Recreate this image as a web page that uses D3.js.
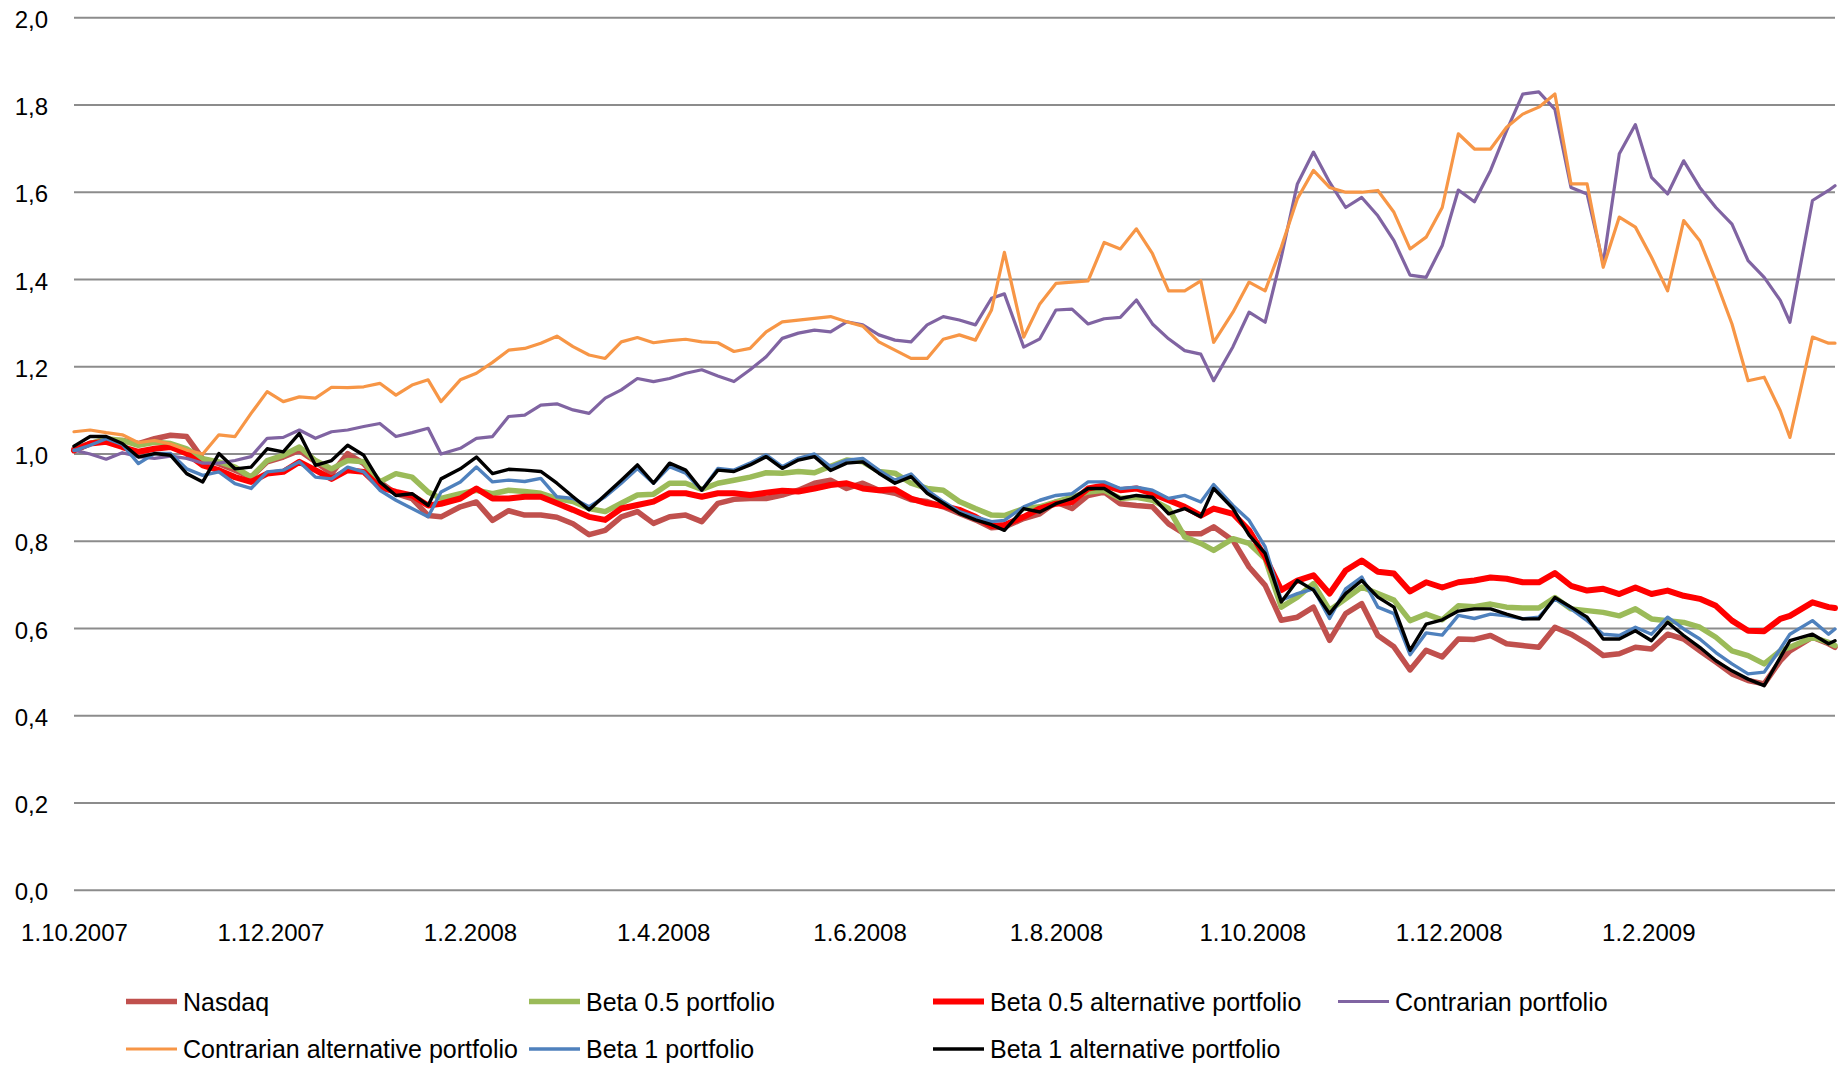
<!DOCTYPE html>
<html>
<head>
<meta charset="utf-8">
<script src="https://cdn.jsdelivr.net/npm/d3@7"></script>
<style>
  html, body { margin: 0; padding: 0; background: #ffffff; }
  svg { display: block; }
  text { font-family: "Liberation Sans", Arial, sans-serif; fill: #000; }
</style>
</head>
<body>
<svg id="chart" width="1839" height="1066"></svg>
<script>
// ---------- DATA ----------
const dates = [
  "2007-10-01","2007-10-06","2007-10-11","2007-10-16","2007-10-21","2007-10-26","2007-10-31","2007-11-05","2007-11-10","2007-11-15",
  "2007-11-20","2007-11-25","2007-11-30","2007-12-05","2007-12-10","2007-12-15","2007-12-20","2007-12-25","2007-12-30","2008-01-04",
  "2008-01-09","2008-01-14","2008-01-19","2008-01-23","2008-01-29","2008-02-03","2008-02-08","2008-02-13","2008-02-18","2008-02-23",
  "2008-02-28","2008-03-04","2008-03-09","2008-03-14","2008-03-19","2008-03-24","2008-03-29","2008-04-03","2008-04-08","2008-04-13",
  "2008-04-18","2008-04-23","2008-04-28","2008-05-03","2008-05-08","2008-05-13","2008-05-18","2008-05-23","2008-05-28","2008-06-02",
  "2008-06-07","2008-06-12","2008-06-17","2008-06-22","2008-06-27","2008-07-02","2008-07-07","2008-07-12","2008-07-16","2008-07-22",
  "2008-07-27","2008-08-01","2008-08-06","2008-08-11","2008-08-16","2008-08-21","2008-08-26","2008-08-31","2008-09-05","2008-09-10",
  "2008-09-15","2008-09-19","2008-09-25","2008-09-30","2008-10-05","2008-10-10","2008-10-15","2008-10-20","2008-10-25","2008-10-30",
  "2008-11-04","2008-11-09","2008-11-14","2008-11-19","2008-11-24","2008-11-29","2008-12-04","2008-12-09","2008-12-14","2008-12-19",
  "2008-12-24","2008-12-29","2009-01-03","2009-01-08","2009-01-13","2009-01-18","2009-01-23","2009-01-28","2009-02-02","2009-02-07",
  "2009-02-12","2009-02-17","2009-02-22","2009-02-27","2009-03-04","2009-03-09","2009-03-14","2009-03-17","2009-03-24","2009-03-29",
  "2009-03-31"
];

const nasdaq = [
  1.012,1.024,1.031,1.031,1.024,1.035,1.043,1.040,0.989,0.978,
  0.963,0.947,0.982,0.993,1.008,0.982,0.955,1.001,0.978,0.936,
  0.909,0.898,0.859,0.856,0.879,0.890,0.848,0.870,0.860,0.860,
  0.855,0.840,0.815,0.825,0.856,0.868,0.841,0.856,0.860,0.845,
  0.887,0.896,0.898,0.898,0.906,0.917,0.933,0.940,0.921,0.933,
  0.917,0.910,0.895,0.891,0.879,0.864,0.849,0.831,0.833,0.852,
  0.863,0.890,0.875,0.905,0.913,0.886,0.882,0.879,0.840,0.817,
  0.817,0.833,0.802,0.741,0.699,0.619,0.626,0.649,0.573,0.634,
  0.657,0.584,0.558,0.505,0.550,0.535,0.576,0.575,0.584,0.565,
  0.561,0.557,0.603,0.587,0.565,0.538,0.542,0.557,0.553,0.587,
  0.576,0.549,0.523,0.496,0.481,0.473,0.526,0.549,0.580,0.565,
  0.557
];

const beta05 = [
  1.008,1.024,1.035,1.031,1.020,1.027,1.024,1.012,0.989,0.982,
  0.970,0.947,0.985,0.997,1.016,0.985,0.966,0.985,0.982,0.936,
  0.955,0.947,0.913,0.898,0.909,0.917,0.909,0.917,0.914,0.910,
  0.898,0.891,0.875,0.868,0.887,0.906,0.908,0.933,0.933,0.919,
  0.933,0.940,0.947,0.957,0.956,0.960,0.957,0.972,0.986,0.982,
  0.960,0.956,0.933,0.921,0.917,0.891,0.875,0.860,0.859,0.875,
  0.879,0.890,0.901,0.913,0.917,0.898,0.901,0.894,0.875,0.810,
  0.795,0.779,0.806,0.795,0.760,0.649,0.672,0.703,0.642,0.668,
  0.695,0.680,0.665,0.618,0.633,0.620,0.652,0.650,0.656,0.649,
  0.647,0.647,0.671,0.645,0.641,0.637,0.629,0.645,0.622,0.618,
  0.614,0.603,0.580,0.549,0.538,0.519,0.549,0.557,0.580,0.568,
  0.561
];

const beta05Alt = [
  1.008,1.024,1.028,1.016,1.005,1.012,1.016,1.001,0.974,0.963,
  0.947,0.936,0.955,0.959,0.982,0.963,0.943,0.963,0.959,0.924,
  0.913,0.905,0.882,0.886,0.898,0.921,0.898,0.898,0.902,0.902,
  0.887,0.872,0.856,0.849,0.875,0.883,0.891,0.910,0.910,0.902,
  0.910,0.910,0.906,0.911,0.916,0.914,0.921,0.929,0.933,0.921,
  0.917,0.919,0.898,0.887,0.881,0.872,0.856,0.835,0.837,0.856,
  0.875,0.886,0.890,0.921,0.928,0.917,0.921,0.909,0.894,0.879,
  0.859,0.875,0.863,0.825,0.764,0.688,0.710,0.722,0.680,0.733,
  0.756,0.730,0.726,0.685,0.706,0.694,0.706,0.710,0.717,0.714,
  0.706,0.706,0.727,0.698,0.687,0.691,0.679,0.694,0.679,0.687,
  0.675,0.668,0.652,0.618,0.595,0.594,0.622,0.629,0.660,0.649,
  0.647
];

const contrarian = [
  1.009,1.000,0.988,1.003,0.994,0.990,0.995,0.990,0.979,0.979,
  0.985,0.994,1.036,1.038,1.055,1.036,1.051,1.055,1.063,1.070,
  1.040,1.049,1.059,1.000,1.013,1.036,1.040,1.086,1.089,1.112,
  1.115,1.101,1.093,1.128,1.147,1.173,1.166,1.173,1.185,1.193,
  1.179,1.166,1.193,1.223,1.265,1.277,1.284,1.280,1.303,1.296,
  1.273,1.261,1.257,1.296,1.315,1.307,1.296,1.357,1.367,1.245,
  1.264,1.330,1.332,1.298,1.310,1.313,1.353,1.298,1.264,1.237,
  1.229,1.168,1.246,1.325,1.302,1.451,1.619,1.692,1.623,1.565,
  1.588,1.546,1.489,1.410,1.405,1.478,1.605,1.578,1.650,1.741,
  1.825,1.830,1.790,1.611,1.596,1.436,1.688,1.755,1.634,1.596,
  1.672,1.611,1.565,1.527,1.443,1.405,1.352,1.302,1.581,1.604,
  1.615
];

const contrarianAlt = [
  1.051,1.055,1.049,1.044,1.026,1.031,1.023,1.009,1.000,1.044,
  1.040,1.093,1.143,1.120,1.131,1.128,1.153,1.152,1.154,1.162,
  1.135,1.158,1.170,1.120,1.170,1.185,1.210,1.238,1.242,1.254,
  1.270,1.246,1.227,1.219,1.257,1.267,1.255,1.260,1.263,1.257,
  1.255,1.235,1.242,1.280,1.303,1.307,1.311,1.315,1.303,1.293,
  1.257,1.238,1.219,1.219,1.263,1.273,1.261,1.330,1.462,1.268,
  1.344,1.391,1.394,1.397,1.485,1.470,1.516,1.459,1.374,1.374,
  1.397,1.256,1.325,1.394,1.374,1.474,1.585,1.650,1.611,1.600,
  1.600,1.604,1.554,1.470,1.497,1.565,1.734,1.699,1.699,1.749,
  1.779,1.795,1.825,1.619,1.619,1.428,1.543,1.520,1.451,1.374,
  1.535,1.489,1.397,1.298,1.168,1.176,1.099,1.038,1.268,1.254,
  1.254
];

const beta1 = [
  1.008,1.020,1.035,1.022,0.978,1.001,1.001,0.966,0.951,0.959,
  0.932,0.921,0.959,0.963,0.982,0.947,0.943,0.970,0.959,0.917,
  0.894,0.875,0.856,0.913,0.936,0.970,0.936,0.940,0.937,0.944,
  0.902,0.898,0.879,0.902,0.933,0.967,0.933,0.971,0.956,0.917,
  0.967,0.963,0.979,0.998,0.971,0.990,1.000,0.971,0.986,0.990,
  0.963,0.940,0.954,0.917,0.891,0.868,0.856,0.845,0.848,0.879,
  0.894,0.905,0.909,0.936,0.936,0.921,0.924,0.917,0.898,0.905,
  0.890,0.930,0.882,0.848,0.787,0.665,0.680,0.691,0.623,0.691,
  0.718,0.649,0.634,0.540,0.590,0.585,0.630,0.623,0.633,0.629,
  0.622,0.626,0.668,0.645,0.618,0.587,0.584,0.603,0.587,0.626,
  0.599,0.576,0.545,0.519,0.496,0.500,0.553,0.587,0.618,0.587,
  0.599
];

const beta1Alt = [
  1.018,1.040,1.040,1.024,0.993,1.001,0.997,0.955,0.936,1.001,
  0.966,0.970,1.012,1.005,1.047,0.974,0.985,1.020,0.997,0.936,
  0.905,0.909,0.882,0.943,0.966,0.993,0.955,0.965,0.963,0.960,
  0.933,0.902,0.872,0.906,0.940,0.975,0.933,0.979,0.963,0.917,
  0.963,0.960,0.975,0.994,0.967,0.986,0.994,0.962,0.979,0.982,
  0.956,0.933,0.948,0.910,0.887,0.864,0.849,0.838,0.825,0.875,
  0.867,0.886,0.898,0.921,0.921,0.898,0.905,0.901,0.863,0.875,
  0.856,0.921,0.875,0.814,0.772,0.661,0.710,0.688,0.634,0.680,
  0.710,0.672,0.649,0.550,0.610,0.620,0.640,0.645,0.645,0.633,
  0.622,0.622,0.671,0.649,0.626,0.576,0.576,0.595,0.572,0.614,
  0.584,0.557,0.526,0.503,0.484,0.469,0.534,0.572,0.587,0.565,
  0.572
];

const seriesNames = [
  "Nasdaq", "Beta 0.5 portfolio", "Beta 0.5 alternative portfolio", "Contrarian portfolio",
  "Contrarian alternative portfolio", "Beta 1 portfolio", "Beta 1 alternative portfolio"
];
const seriesColors = ["#C0504D", "#9BBB59", "#FF0000", "#8064A2", "#F79646", "#4F81BD", "#000000"];
const seriesWidths = [5.5, 5.5, 6, 3.2, 3.2, 3.4, 3.4];
const seriesValues = [nasdaq, beta05, beta05Alt, contrarian, contrarianAlt, beta1, beta1Alt];

const xTickDates = ["2007-10-01","2007-12-01","2008-02-01","2008-04-01","2008-06-01","2008-08-01","2008-10-01","2008-12-01","2009-02-01"];
const xTickLabels = ["1.10.2007","1.12.2007","1.2.2008","1.4.2008","1.6.2008","1.8.2008","1.10.2008","1.12.2008","1.2.2009"];
const yTickValues = [0, 0.2, 0.4, 0.6, 0.8, 1.0, 1.2, 1.4, 1.6, 1.8, 2.0];
const xDomain = ["2007-10-01", "2009-03-31"];

// ---------- LAYOUT ----------
const parse = d3.timeParse("%Y-%m-%d");
const svg = d3.select("#chart");
const plot = { left: 74, right: 1835, top: 17.7, bottom: 890.3 };

const x = d3.scaleTime().domain(xDomain.map(parse)).range([plot.left, plot.right]);
const y = d3.scaleLinear().domain([0, 2]).range([plot.bottom, plot.top]);

const commaFmt = d3.formatLocale({ decimal: ",", thousands: " ", grouping: [3], currency: ["", ""] }).format(".1f");

// gridlines
svg.append("g").attr("class", "grid")
  .selectAll("line").data(yTickValues).join("line")
  .attr("x1", plot.left).attr("x2", plot.right)
  .attr("y1", d => y(d)).attr("y2", d => y(d))
  .attr("stroke", "#8c8c8c").attr("stroke-width", 2);

// y axis
const yAxis = d3.axisLeft(y).tickValues(yTickValues).tickFormat(commaFmt).tickSize(0).tickPadding(0);
const gy = svg.append("g").attr("transform", "translate(48,0)").call(yAxis);
gy.select(".domain").remove();
gy.selectAll("text").attr("font-size", 24).attr("font-family", "Liberation Sans, Arial, sans-serif")
  .attr("fill", "#000").attr("dy", "0.4em");

// x axis
const xAxis = d3.axisBottom(x).tickValues(xTickDates.map(parse))
  .tickFormat((d, i) => xTickLabels[i]).tickSize(0).tickPadding(0);
const gx = svg.append("g").attr("transform", "translate(0,924)").call(xAxis);
gx.select(".domain").remove();
gx.selectAll("text").attr("font-size", 24).attr("font-family", "Liberation Sans, Arial, sans-serif")
  .attr("fill", "#000").attr("dy", "0.7em").attr("y", 0);

// lines
const parsedDates = dates.map(parse);
const line = d3.line().x(d => x(d[0])).y(d => y(d[1]));
const gLines = svg.append("g").attr("class", "lines");
seriesValues.forEach((vals, s) => {
  const pts = vals.map((v, i) => [parsedDates[i], v]);
  gLines.append("path")
    .attr("d", line(pts))
    .attr("fill", "none")
    .attr("stroke", seriesColors[s])
    .attr("stroke-width", seriesWidths[s])
    .attr("stroke-linejoin", "round")
    .attr("stroke-linecap", "round");
});

// legend
const legendCols = [126, 529, 933, 1338];
const legendRows = [1001.5, 1049];
const gLeg = svg.append("g").attr("class", "legend");
seriesNames.forEach((name, s) => {
  const col = s < 4 ? s : s - 4;
  const row = s < 4 ? 0 : 1;
  const lx = legendCols[col], ly = legendRows[row];
  gLeg.append("line")
    .attr("x1", lx).attr("x2", lx + 51).attr("y1", ly).attr("y2", ly)
    .attr("stroke", seriesColors[s]).attr("stroke-width", seriesWidths[s]);
  gLeg.append("text")
    .attr("x", lx + 57).attr("y", ly).attr("dy", "0.36em")
    .attr("font-size", 25)
    .text(name);
});
</script>
</body>
</html>
